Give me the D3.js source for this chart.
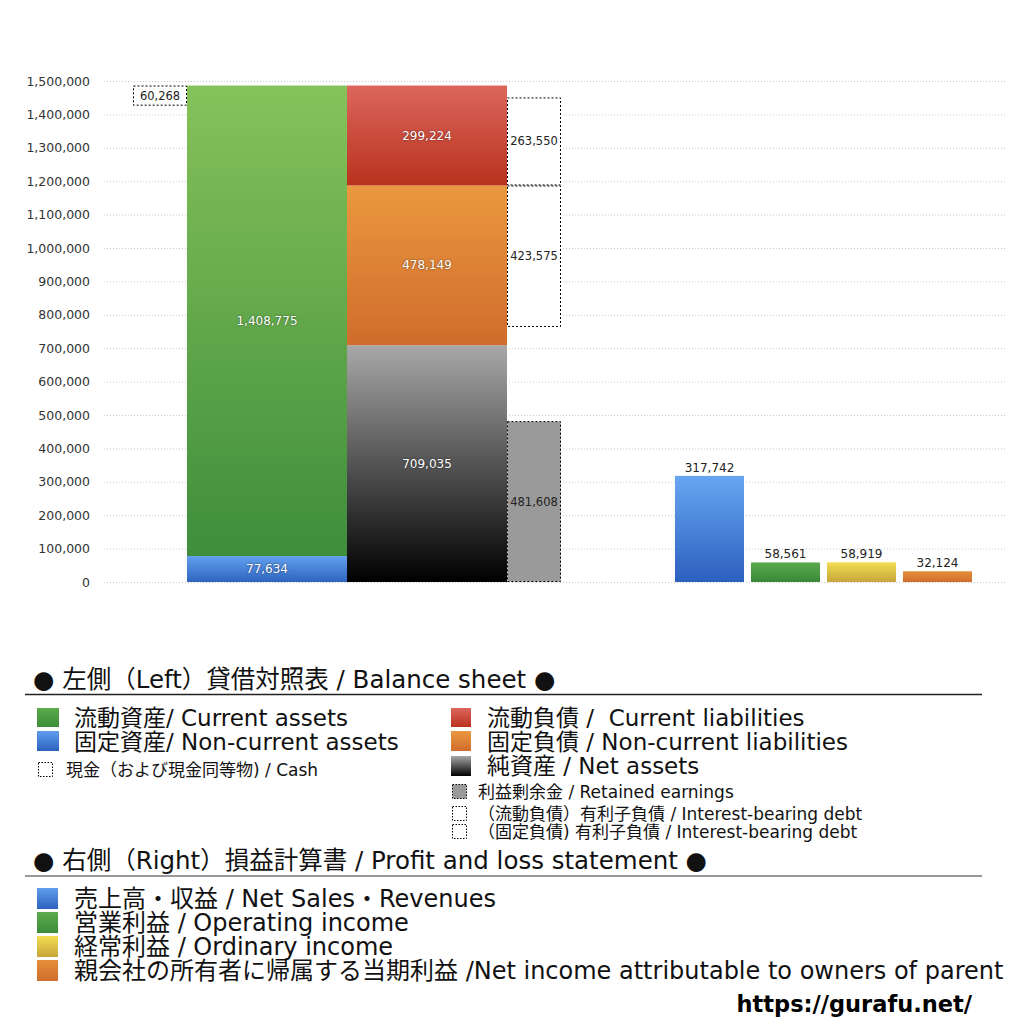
<!DOCTYPE html>
<html><head><meta charset="utf-8">
<script src="https://cdn.jsdelivr.net/npm/d3@7/dist/d3.min.js"></script>
<style>
html,body{margin:0;padding:0;background:#fff;}
svg{display:block;font-family:"DejaVu Sans","Noto Sans CJK JP",sans-serif;}
svg text{white-space:pre;}
.inlab{fill:#fff;font-size:12px;text-shadow:0 0 2px rgba(0,0,0,0.6);}
</style>
</head><body>
<svg id="c" width="1024" height="1024"></svg>
<script>
// ---- data ----
const yTicks = [0,100000,200000,300000,400000,500000,600000,700000,800000,900000,1000000,1100000,1200000,1300000,1400000,1500000];
const assetNames = ["固定資産","流動資産"];
const assetValues = [77634, 1408775];
const liabNames = ["純資産","固定負債","流動負債"];
const liabValues = [709035, 478149, 299224];
const cashValue = 60268;
const retainedEarnings = 481608;
const debtCurrent = 263550;
const debtNonCurrent = 423575;
const plNames = ["売上高・収益","営業利益","経常利益","親会社株主に帰属する当期純利益"];
const plValues = [317742, 58561, 58919, 32124];

const svg = d3.select("#c");
const defs = svg.append("defs");
function grad(id, top, bottom){
  const g = defs.append("linearGradient").attr("id",id).attr("x1",0).attr("y1",0).attr("x2",0).attr("y2",1);
  g.append("stop").attr("offset","0%").attr("stop-color",top);
  g.append("stop").attr("offset","100%").attr("stop-color",bottom);
}
grad("gGreen","#86c25a","#3e8e3c");
grad("gBlue","#62a0ee","#2e64be");
grad("gRed","#dc665c","#b9321e");
grad("gOrange","#ea983f","#d06c2c");
grad("gNet","#a8a8a8","#000000");
grad("gSales","#68a6f2","#2c60bf");
grad("gOp","#5aaa4e","#3a8838");
grad("gYel","#f2de52","#c7a53a");
grad("gNI","#e58e3a","#cf6e2c");
grad("gLGreen","#5cab4c","#3c8c3a");
grad("gLBlue","#5f9ded","#2d63bf");

const y = d3.scaleLinear().domain([0,1500000]).range([582,81]);
const xLeft = d3.scaleBand().domain(["assets","liab"]).range([187,507]).padding(0);
const xRight = d3.scaleBand().domain(plNames).range([671.5,975.5]).paddingInner(0.092).paddingOuter(0.046);

// grid
const grid = svg.append("g");
grid.selectAll("line").data(yTicks).join("line")
  .attr("x1",104).attr("x2",1005)
  .attr("y1",d=>y(d)+0.5).attr("y2",d=>y(d)+0.5)
  .attr("stroke","#c8c8c8").attr("stroke-width",1).attr("stroke-dasharray","1,2");
// axis labels
const axis = d3.axisLeft(y).tickValues(yTicks).tickFormat(d3.format(",")).tickSize(0).tickPadding(0);
const ag = svg.append("g").attr("transform","translate(90,0)").call(axis);
ag.select(".domain").remove();
ag.selectAll("text").attr("font-size",12.5).attr("fill","#333").attr("font-family",'"DejaVu Sans",sans-serif');

// assets stacked
const aFill = ["url(#gBlue)","url(#gGreen)"];
let cum = 0;
const aStack = assetValues.map((v,i)=>{const s={y0:cum,y1:cum+v,v,fill:aFill[i]}; cum+=v; return s;});
const assetTotal = cum;
svg.append("g").selectAll("rect").data(aStack).join("rect")
  .attr("x",xLeft("assets")).attr("width",xLeft.bandwidth())
  .attr("y",d=>y(d.y1)).attr("height",d=>y(d.y0)-y(d.y1)).attr("fill",d=>d.fill);
svg.append("g").selectAll("text").data(aStack).join("text").attr("class","inlab")
  .attr("x",xLeft("assets")+xLeft.bandwidth()/2).attr("y",d=>y((d.y0+d.y1)/2)+4)
  .attr("text-anchor","middle").text(d=>d3.format(",")(d.v));

// liabilities stacked
const lFill = ["url(#gNet)","url(#gOrange)","url(#gRed)"];
cum = 0;
const lStack = liabValues.map((v,i)=>{const s={y0:cum,y1:cum+v,v,fill:lFill[i]}; cum+=v; return s;});
svg.append("g").selectAll("rect").data(lStack).join("rect")
  .attr("x",xLeft("liab")).attr("width",xLeft.bandwidth())
  .attr("y",d=>y(d.y1)).attr("height",d=>y(d.y0)-y(d.y1)).attr("fill",d=>d.fill);
svg.append("g").selectAll("text").data(lStack).join("text").attr("class","inlab")
  .attr("x",xLeft("liab")+xLeft.bandwidth()/2).attr("y",d=>y((d.y0+d.y1)/2)+4)
  .attr("text-anchor","middle").text(d=>d3.format(",")(d.v));

// dashed boxes
const boxW = 54;
const boxX = xLeft.range()[1];
const boxes = [
  {x:xLeft("assets")-boxW, y0:assetTotal-cashValue, y1:assetTotal, v:cashValue, fill:"#fff", lab:"top"},
  {x:boxX, y0:0, y1:retainedEarnings, v:retainedEarnings, fill:"#9a9a9a", lab:"mid"},
  {x:boxX, y0:lStack[2].y0, y1:lStack[2].y0+debtCurrent, v:debtCurrent, fill:"#fff", lab:"mid"},
  {x:boxX, y0:lStack[1].y1-debtNonCurrent, y1:lStack[1].y1, v:debtNonCurrent, fill:"#fff", lab:"mid"}
];
const bg = svg.append("g");
bg.selectAll("rect").data(boxes).join("rect")
  .attr("x",d=>d.x+0.5).attr("width",boxW-1)
  .attr("y",d=>y(d.y1)+0.5).attr("height",d=>y(d.y0)-y(d.y1)-1)
  .attr("fill",d=>d.fill).attr("stroke","#000").attr("stroke-width",1).attr("stroke-dasharray","2,2");
bg.selectAll("text").data(boxes).join("text")
  .attr("x",d=>d.x+boxW/2).attr("y",d=>d.lab==="top"? y(d.y1)+14 : y((d.y0+d.y1)/2)+4)
  .attr("text-anchor","middle").attr("font-size",11.5).attr("fill","#222").text(d=>d3.format(",")(d.v));

// P&L bars
const plFill = ["url(#gSales)","url(#gOp)","url(#gYel)","url(#gNI)"];
svg.append("g").selectAll("rect").data(plValues).join("rect")
  .attr("x",(d,i)=>xRight(plNames[i])).attr("width",xRight.bandwidth())
  .attr("y",d=>y(d)).attr("height",d=>y(0)-y(d)).attr("fill",(d,i)=>plFill[i]);
svg.append("g").selectAll("text").data(plValues).join("text")
  .attr("x",(d,i)=>xRight(plNames[i])+xRight.bandwidth()/2).attr("y",d=>y(d)-4)
  .attr("text-anchor","middle").attr("font-size",12).attr("fill","#222").text(d=>d3.format(",")(d));

// ---- legend ----
const L = svg.append("g").attr("fill","#111");
function header(txt, yb, ly, col){
  L.append("text").attr("x",33).attr("y",yb).attr("font-size",24.5).text(txt);
  L.append("line").attr("x1",25).attr("x2",982).attr("y1",ly).attr("y2",ly).attr("stroke",col).attr("stroke-width",1.5);
}
header("● 左側（Left）貸借対照表 / Balance sheet ●", 688, 694.5, "#222");
function sq(x,yy,w,h,fill,dashed){
  L.append("rect").attr("x",x).attr("y",yy).attr("width",w).attr("height",h).attr("fill",fill)
   .attr("stroke",dashed?"#000":"none").attr("stroke-dasharray",dashed?"1.5,1.5":null).attr("stroke-width",dashed?1:0);
}
function item(x,yy,txt,size){
  L.append("text").attr("x",x).attr("y",yy).attr("font-size",size).text(txt);
}
sq(37,708,22,19,"url(#gLGreen)"); item(74,726,"流動資産/ Current assets",23);
sq(37,731,22,20,"url(#gLBlue)"); item(74,750,"固定資産/ Non-current assets",23);
sq(38.5,762.5,14,14,"#fff",true); item(66,776,"現金（および現金同等物) / Cash",17);

sq(451,708,20,19,"url(#gRed)"); item(487,726,"流動負債 /  Current liabilities",23);
sq(451,731,20,20,"url(#gOrange)"); item(487,750,"固定負債 / Non-current liabilities",23);
sq(451,756,20,20,"url(#gNet)"); item(487,774,"純資産 / Net assets",23);
sq(452.5,784.5,14,14,"#9a9a9a",true); item(478,798,"利益剰余金 / Retained earnings",17);
sq(452.5,806.5,14,14,"#fff",true); item(478,820,"（流動負債）有利子負債 / Interest-bearing debt",17);
sq(452.5,824.5,14,14,"#fff",true); item(478,838,"（固定負債) 有利子負債 / Interest-bearing debt",17);

header("● 右側（Right）損益計算書 / Profit and loss statement ●", 869, 876, "#777");
const plLegend = ["売上高・収益 / Net Sales・Revenues","営業利益 / Operating income","経常利益 / Ordinary income","親会社の所有者に帰属する当期利益 /Net income attributable to owners of parent"];
const plLegFill = ["url(#gLBlue)","url(#gLGreen)","url(#gYel)","url(#gNI)"];
plLegend.forEach((t,i)=>{
  sq(37,888+i*24,21,21,plLegFill[i]);
  item(74,907+i*24,t,24);
});
L.append("text").attr("x",972).attr("y",1012).attr("text-anchor","end").attr("font-size",22.5).attr("font-weight","bold").attr("fill","#000").text("https://gurafu.net/");
</script>
</body></html>
